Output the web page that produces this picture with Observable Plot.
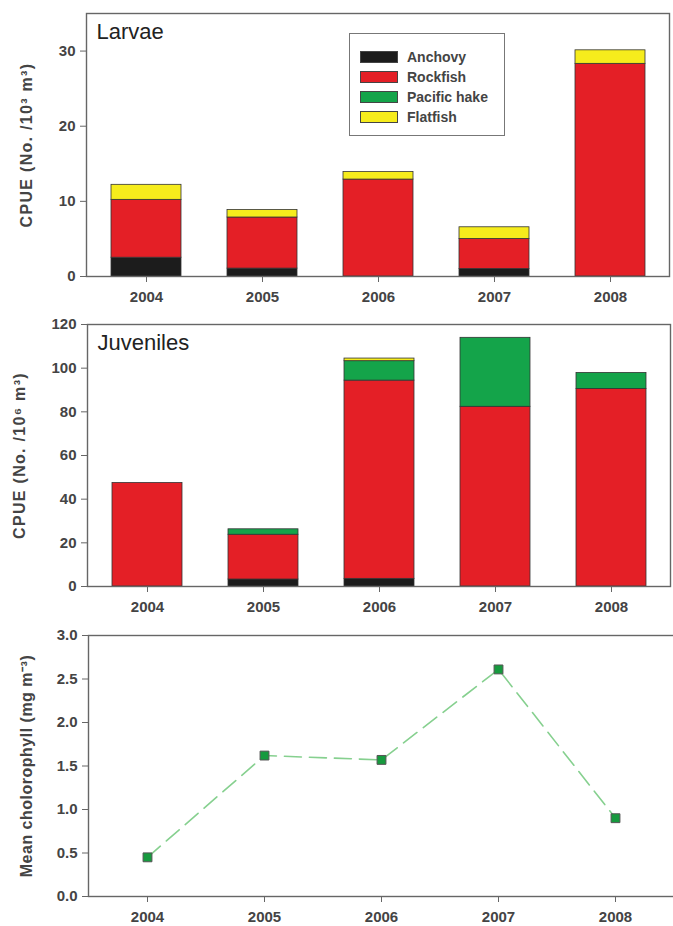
<!DOCTYPE html>
<html>
<head>
<meta charset="utf-8">
<script src="https://cdn.jsdelivr.net/npm/d3@7"></script>
<script src="https://cdn.jsdelivr.net/npm/@observablehq/plot@0.6"></script>
<style>
  body { margin: 0; background: #fff; }
  #chart { position: relative; width: 673px; font-family: "Liberation Sans", Arial, sans-serif; }
  #chart svg { display: block; }
  .legend { position: absolute; left: 349px; top: 33px; width: 156px; height: 103px;
            border: 1.5px solid #777; box-sizing: border-box; background: #fff; }
  .legend .row { position: absolute; left: 10px; height: 13px; display: flex; align-items: center; }
  .legend .sw { width: 38px; height: 12px; border: 1px solid #444; box-sizing: border-box; margin-right: 9px; }
  .legend .lb { font-size: 14px; font-weight: bold; color: #444; white-space: nowrap; }
</style>
</head>
<body>
<div id="chart"></div>
<script>
// Sampling years and taxa
const years = ["2004", "2005", "2006", "2007", "2008"];
const species = ["Anchovy", "Rockfish", "Pacific hake", "Flatfish"];
const speciesColors = ["#1c1c1c", "#e41f26", "#14a44a", "#f6ec1c"];

// Larval CPUE (No. / 10^3 m^3), one array per taxon
const larvaeAnchovy  = [2.5, 1.05, 0, 1.0, 0];
const larvaeRockfish = [7.7, 6.8, 12.9, 4.0, 28.3];
const larvaeHake     = [0, 0, 0, 0, 0];
const larvaeFlatfish = [2.0, 1.0, 1.0, 1.55, 1.8];

// Juvenile CPUE (No. / 10^6 m^3), one array per taxon
const juvAnchovy  = [0, 3.2, 3.5, 0, 0];
const juvRockfish = [47.4, 20.5, 90.8, 82.3, 90.5];
const juvHake     = [0, 2.5, 8.9, 31.6, 7.3];
const juvFlatfish = [0, 0, 1.2, 0, 0];

// Mean chlorophyll (mg m^-3)
const chlorophyll = [0.45, 1.62, 1.57, 2.61, 0.90];

// Axis ticks
const larvaeTicks = [0, 10, 20, 30];
const juvTicks = [0, 20, 40, 60, 80, 100, 120];
const chlTicks = [0, 0.5, 1, 1.5, 2, 2.5, 3];

function toRows(seriesList) {
  const rows = [];
  seriesList.forEach((vals, i) => {
    vals.forEach((v, j) => { if (v > 0) rows.push({year: years[j], species: species[i], value: v}); });
  });
  return rows;
}

const font = '"Liberation Sans", Arial, sans-serif';

// Widen the letter spacing of the rotated axis titles
function spaceTitle(svg, title, spacing) {
  d3.select(svg).selectAll("text")
    .filter(function () { return this.textContent === title; })
    .style("letter-spacing", spacing + "px");
  return svg;
}

function barPanel(o) {
  const svg = Plot.plot({
    width: 673, height: o.height,
    marginTop: o.marginTop, marginBottom: o.marginBottom,
    marginLeft: o.marginLeft, marginRight: o.marginRight,
    style: {fontFamily: font, fontSize: "15px", fontWeight: "bold", color: "#444", background: "#fff"},
    x: {type: "band", domain: years, paddingInner: 0.4, paddingOuter: 0.2},
    y: {domain: o.domain},
    color: {domain: species, range: speciesColors},
    marks: [
      Plot.barY(o.rows, {x: "year", y: "value", fill: "species", z: "species", order: species,
                         stroke: "#333", strokeWidth: 0.8}),
      Plot.frame({stroke: "#666", strokeWidth: 1.4}),
      Plot.axisY({ticks: o.ticks, tickSize: 6, tickPadding: 5, label: null, stroke: "#666"}),
      Plot.axisX({tickSize: 6, tickPadding: 9, label: null, stroke: "#666"}),
      Plot.text([o.title], {frameAnchor: "left", textAnchor: "middle", rotate: -90, dx: o.titleDx,
                            fontSize: 16, fill: "#444"}),
      Plot.text([o.name], {frameAnchor: "top-left", dx: 10, dy: 10, textAnchor: "start", lineAnchor: "top",
                           fontSize: 22, fontWeight: "normal", fill: "#222"})
    ]
  });
  return spaceTitle(svg, o.title, 1.3);
}

const chart = document.getElementById("chart");

chart.appendChild(barPanel({
  rows: toRows([larvaeAnchovy, larvaeRockfish, larvaeHake, larvaeFlatfish]),
  domain: [0, 35], ticks: larvaeTicks,
  title: "CPUE (No. /10³ m³)", name: "Larvae", titleDx: -60,
  height: 310, marginTop: 13, marginBottom: 34, marginLeft: 86, marginRight: 4
}));

chart.appendChild(barPanel({
  rows: toRows([juvAnchovy, juvRockfish, juvHake, juvFlatfish]),
  domain: [0, 120], ticks: juvTicks,
  title: "CPUE (No. /10⁶ m³)", name: "Juveniles", titleDx: -68,
  height: 310, marginTop: 14, marginBottom: 34, marginLeft: 87, marginRight: 3
}));

const chlRows = years.map((y, i) => ({year: y, value: chlorophyll[i]}));
const chlTitle = "Mean cholorophyll (mg m⁻³)";

chart.appendChild(spaceTitle(Plot.plot({
  width: 673, height: 306,
  marginTop: 15, marginBottom: 30, marginLeft: 88, marginRight: 0,
  style: {fontFamily: font, fontSize: "15px", fontWeight: "bold", color: "#444", background: "#fff"},
  x: {type: "point", domain: years, padding: 0.5},
  y: {domain: [0, 3]},
  marks: [
    Plot.frame({stroke: "#666", strokeWidth: 1.4, insetRight: -4}),
    Plot.lineY(chlRows, {x: "year", y: "value", stroke: "#86d08f", strokeWidth: 1.6, strokeDasharray: "17,8"}),
    Plot.dot(chlRows, {x: "year", y: "value", symbol: "square", r: 5, fill: "#169a3e", stroke: "#555", strokeWidth: 1}),
    Plot.axisY({ticks: chlTicks, tickFormat: d3.format(".1f"), tickSize: 6, tickPadding: 5, label: null, stroke: "#666"}),
    Plot.axisX({tickSize: 6, tickPadding: 9, label: null, stroke: "#666"}),
    Plot.text([chlTitle], {frameAnchor: "left", textAnchor: "middle", rotate: -90, dx: -62,
                           fontSize: 16, fill: "#444"})
  ]
}), chlTitle, 0.5));

// Legend for the taxa, placed inside the larvae panel
const legend = document.createElement("div");
legend.className = "legend";
species.forEach((s, i) => {
  const row = document.createElement("div");
  row.className = "row";
  row.style.top = (16 + i * 20) + "px";
  const sw = document.createElement("div");
  sw.className = "sw";
  sw.style.background = speciesColors[i];
  const lb = document.createElement("span");
  lb.className = "lb";
  lb.textContent = s;
  row.appendChild(sw);
  row.appendChild(lb);
  legend.appendChild(row);
});
chart.appendChild(legend);
</script>
</body>
</html>
